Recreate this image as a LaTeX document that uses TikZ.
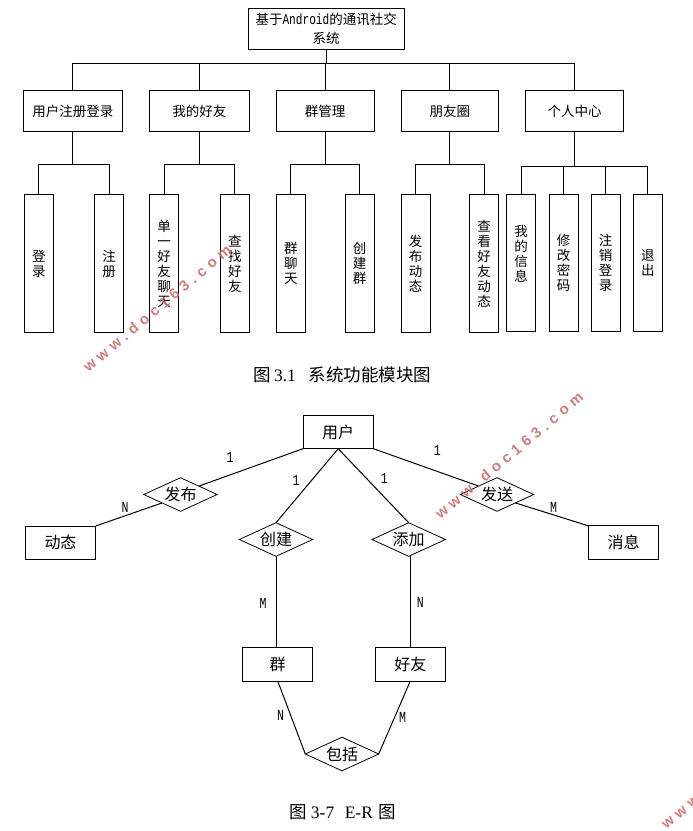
\documentclass[tikz,border=0pt]{standalone}
\usepackage{fontspec}
\setmainfont{Noto Sans CJK SC}
\newfontfamily\halfw[Scale=1.1,FakeStretch=0.75]{Liberation Mono}
\newfontfamily\capfont{Liberation Serif}
\newfontfamily\stampfont[LetterSpace=32]{Liberation Sans}
\usetikzlibrary{positioning,shapes.geometric}
\definecolor{stampred}{RGB}{203,102,102}
\tikzset{
	modbox/.style={draw,line width=1pt,outer sep=0pt,inner sep=0pt,minimum width=97.7pt,minimum height=41.4pt,font=\fontsize{13.5}{15}\selectfont},
	subbox/.style={draw,line width=1pt,outer sep=0pt,inner sep=0pt,minimum width=29pt,minimum height=137.3pt,align=center,font=\fontsize{13.5}{15}\selectfont},
	entity/.style={draw,line width=1pt,outer sep=0pt,inner sep=0pt,minimum width=70.4pt,minimum height=33.4pt,font=\fontsize{16}{18}\selectfont},
	relation/.style={draw,diamond,aspect=2.2,line width=.8pt,outer sep=0pt,inner sep=0pt,minimum width=73.4pt,minimum height=33.6pt,font=\fontsize{16}{18}\selectfont},
	card/.style={inner sep=0pt,font=\fontsize{14}{16}\selectfont\halfw},
	caption/.style={inner sep=0pt,font=\fontsize{17.5}{20}\selectfont},
	stamp/.style={anchor=west,rotate=40,inner sep=0pt,opacity=.85,text=stampred,font=\fontsize{15}{18}\selectfont\stampfont\bfseries},
	link/.style={line width=1pt},
}
\begin{document}
\begin{tikzpicture}[x=1pt,y=-1pt]
	\clip (0,0) rectangle (693,831);
	\node [modbox,minimum width=156.3pt,align=center,font=\fontsize{13.5}{18.5}\selectfont] (sys) at (326.2,29) {基于{\halfw Android}的通讯社交\\系统};
	\node [modbox,minimum width=99pt] (m1) at (72.8,111) {用户注册登录};
	\node [modbox,minimum width=99.3pt,right=27.4pt of m1] (m2) {我的好友};
	\node [modbox,right=27.3pt of m2] (m3) {群管理};
	\node [modbox,right=27pt of m3] (m4) {朋友圈};
	\node [modbox,right=27pt of m4] (m5) {个人中心};

	\node [subbox] (s1) at (38.8,263.6) {登\\录};
	\node [subbox,right=41.4pt of s1] (s2) {注\\册};
	\node [subbox,right=26pt of s2] (s3) {单\\一\\好\\友\\聊\\天};
	\node [subbox,right=41.6pt of s3] (s4) {查\\找\\好\\友};
	\node [subbox,right=27pt of s4] (s5) {群\\聊\\天};
	\node [subbox,right=39.7pt of s5] (s6) {创\\建\\群};
	\node [subbox,right=27pt of s6] (s7) {发\\布\\动\\态};
	\node [subbox,right=39.7pt of s7] (s8) {查\\看\\好\\友\\动\\态};
	\node [subbox,right=8pt of s8,yshift=.4pt] (s9) {我\\的\\信\\息\\[5pt]~};
	\node [subbox,right=13.3pt of s9] (s10) {修\\改\\密\\码};
	\node [subbox,right=13pt of s10] (s11) {注\\销\\登\\录};
	\node [subbox,right=13.3pt of s11] (s12) {退\\出};

	\coordinate [below=13.5pt of sys] (bus);
	\coordinate [below=32.3pt of m1] (j1);
	\coordinate [below=32.3pt of m2] (j2);
	\coordinate [below=32.3pt of m3] (j3);
	\coordinate [below=32.3pt of m4] (j4);
	\coordinate [below=34.3pt of m5] (j5);

	\draw [link] (sys.south) -- (bus);
	\draw [link] (m1.north) |- (bus);
	\draw [link] (m2.north) |- (bus);
	\draw [link] (m3.north) -- (m3.north |- bus);
	\draw [link] (m4.north) |- (bus);
	\draw [link] (m5.north) |- (bus);

	\draw [link] (m1.south) -- (j1);
	\draw [link] (s1.north) |- (j1);
	\draw [link] (s2.north) |- (j1);
	\draw [link] (m2.south) -- (j2);
	\draw [link] (s3.north) |- (j2);
	\draw [link] (s4.north) |- (j2);
	\draw [link] (m3.south) -- (j3);
	\draw [link] (s5.north) |- (j3);
	\draw [link] (s6.north) |- (j3);
	\draw [link] (m4.south) -- (j4);
	\draw [link] (s7.north) |- (j4);
	\draw [link] (s8.north) |- (j4);
	\draw [link] (m5.south) -- (j5);
	\draw [link] (s9.north) |- (j5);
	\draw [link] (s10.north) |- (j5);
	\draw [link] (s11.north) |- (j5);
	\draw [link] (s12.north) |- (j5);

	\node [caption] (cap1) at (342.2,375) {图\hspace{3.5pt}{\capfont 3.1}\hspace{13pt}系统功能模块图};

	\node [entity] (user) at (338.2,432) {用户};
	\node [entity] (feed) at (60.5,542.7) {动态};
	\node [entity] (group) at (277.7,664.3) {群};
	\node [entity] (pal) at (410.3,664.3) {好友};
	\node [entity] (msg) at (623.5,542.5) {消息};
	\node [relation] (post) at (180.5,494.5) {发布};
	\node [relation] (make) at (276,539.5) {创建};
	\node [relation] (add) at (408.7,539.5) {添加};
	\node [relation] (send) at (497,494.5) {发送};
	\node [relation] (has) at (342,754) {包括};

	\draw [link] (user.south west) -- (post.north east);
	\draw [link] (post.south west) -- (feed.north east);
	\draw [link] (user.south) -- (make.north);
	\draw [link] (user.south) -- (add.north);
	\draw [link] (user.south east) -- (send.north west);
	\draw [link] (send.south east) -- (msg.north west);
	\draw [link] (make.south) -- (make.south |- group.north);
	\draw [link] (pal.north |- add.south) -- (pal.north);
	\draw [link] (group.south) -- (has.west);
	\draw [link] (pal.south) -- (has.east);

	\node [card] (c1) at (230,457.5) {1};
	\node [card] (c2) at (125,507) {N};
	\node [card] (c3) at (296,480.5) {1};
	\node [card] (c4) at (263,603) {M};
	\node [card] (c5) at (384.3,478.3) {1};
	\node [card] (c6) at (420.3,602) {N};
	\node [card] (c7) at (437.3,450.3) {1};
	\node [card] (c8) at (553.5,507) {M};
	\node [card] (c9) at (280.5,715) {N};
	\node [card] (c10) at (402.5,717) {M};

	\node [caption] (cap2) at (343.2,812) {图\hspace{3.5pt}{\capfont 3-7}\hspace{10.5pt}{\capfont E-R}\hspace{6pt}图};

	\node [stamp] (wm1) at (85,369) {www.doc163.com};
	\node [stamp] (wm2) at (437,516) {www.doc163.com};
	\node [stamp] (wm3) at (663,826) {www.doc163.com};
\end{tikzpicture}
\end{document}
